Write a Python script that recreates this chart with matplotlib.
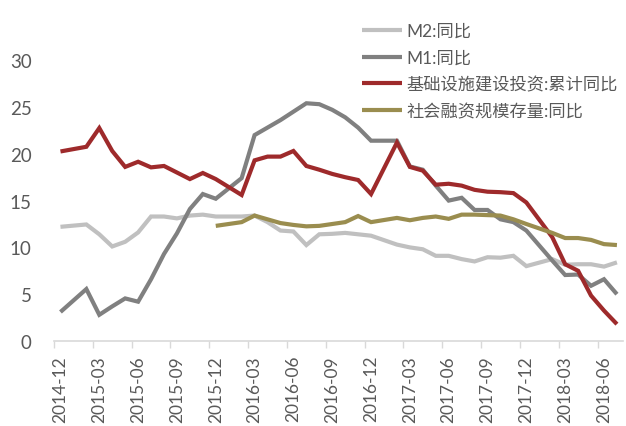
import numpy as np
import pandas as pd
import matplotlib
matplotlib.use("Agg")
import matplotlib.pyplot as plt

plt.rcParams['font.family'] = ['Lato', 'Noto Sans CJK SC', 'DejaVu Sans']

nan = np.nan
months = list(pd.period_range('2014-12', '2018-07', freq='M').strftime('%Y-%m'))
tick_labels = months[::3]

m2 = [12.2, nan, 12.45, 11.4, 10.1, 10.6, 11.6, 13.3, 13.3, 13.1, 13.4, 13.5,
      13.3, nan, 13.3, 13.4, 12.7, 11.8, 11.7, 10.25, 11.4, 11.45, 11.55, 11.4,
      11.25, nan, 10.3, 10.0, 9.8, 9.1, 9.1, 8.75, 8.5, 8.95, 8.9, 9.1,
      8.0, nan, 8.75, 8.15, 8.2, 8.2, 7.95, 8.4]
m1 = [3.1, nan, 5.55, 2.8, 3.7, 4.55, 4.2, 6.6, 9.3, 11.5, 14.1, 15.7,
      15.2, nan, 17.4, 22.0, 22.8, 23.6, 24.5, 25.4, 25.3, 24.7, 23.9, 22.8,
      21.4, nan, 21.4, 18.65, 18.3, 16.6, 15.0, 15.3, 14.0, 14.0, 13.0, 12.7,
      11.8, nan, 8.6, 7.05, 7.1, 5.9, 6.6, 5.0]
infra = [20.25, nan, 20.75, 22.75, 20.3, 18.6, 19.15, 18.55, 18.7, 18.0, 17.3, 17.95,
         17.3, nan, 15.6, 19.3, 19.7, 19.7, 20.3, 18.7, 18.3, 17.85, 17.5, 17.2,
         15.7, nan, 21.2, 18.6, 18.2, 16.7, 16.8, 16.6, 16.15, 15.95, 15.9, 15.8,
         14.8, nan, 11.1, 8.2, 7.5, 4.85, 3.25, 1.8]
tsf = [nan, nan, nan, nan, nan, nan, nan, nan, nan, nan, nan, nan,
       12.3, nan, 12.7, 13.4, 13.0, 12.6, 12.4, 12.25, 12.3, 12.5, 12.7, 13.35,
       12.7, nan, 13.15, 12.9, 13.15, 13.3, 13.05, 13.5, 13.5, 13.45, 13.4, 13.0,
       12.5, nan, 11.55, 11.0, 11.0, 10.8, 10.35, 10.25]

series = [
    ('M2:同比', m2, '#c0c0c0'),
    ('M1:同比', m1, '#808080'),
    ('基础设施建设投资:累计同比', infra, '#9e2a2b'),
    ('社会融资规模存量:同比', tsf, '#9a8d4f'),
]

fig = plt.figure(figsize=(6.26, 4.27), dpi=100)
ax = fig.add_axes([54 / 626, 1 - 342 / 427, (623.4 - 54) / 626, (342 - 14.4) / 427])

x = np.arange(len(months))
for label, vals, color in series:
    v = np.array(vals, dtype=float)
    mask = ~np.isnan(v)
    ax.plot(x[mask], v[mask], color=color, lw=3, label=label,
            solid_joinstyle='miter', solid_capstyle='butt')

ax.set_xlim(-0.5, len(months) - 0.5)
ax.set_ylim(0, 35)
ax.set_yticks([0, 5, 10, 15, 20, 25, 30])
ax.tick_params(axis='y', length=0, pad=16, labelsize=13.5, labelcolor='#595959')

ax.set_xticks(np.arange(-0.5, len(months) - 1, 3))
ax.set_xticklabels([])
ax.tick_params(axis='x', which='major', length=5, width=1, color='#d9d9d9', direction='out')
ax.set_xticks(np.arange(0, len(months), 3), minor=True)
ax.set_xticklabels(tick_labels, minor=True, rotation=90, fontsize=12.5, color='#595959')
ax.tick_params(axis='x', which='minor', length=0, pad=10)

for s in ['left', 'top', 'right']:
    ax.spines[s].set_visible(False)
ax.spines['bottom'].set_color('#d9d9d9')
ax.spines['bottom'].set_linewidth(1.2)

leg = fig.legend(loc='upper left', bbox_to_anchor=(362 / 626, 1 - 24 / 427),
                 frameon=False, fontsize=12.4, handlelength=2.3, handletextpad=0.3,
                 labelspacing=0.62, borderpad=0, borderaxespad=0)
for t in leg.get_texts():
    t.set_color('#595959')

fig.savefig('out.png', dpi=100)
